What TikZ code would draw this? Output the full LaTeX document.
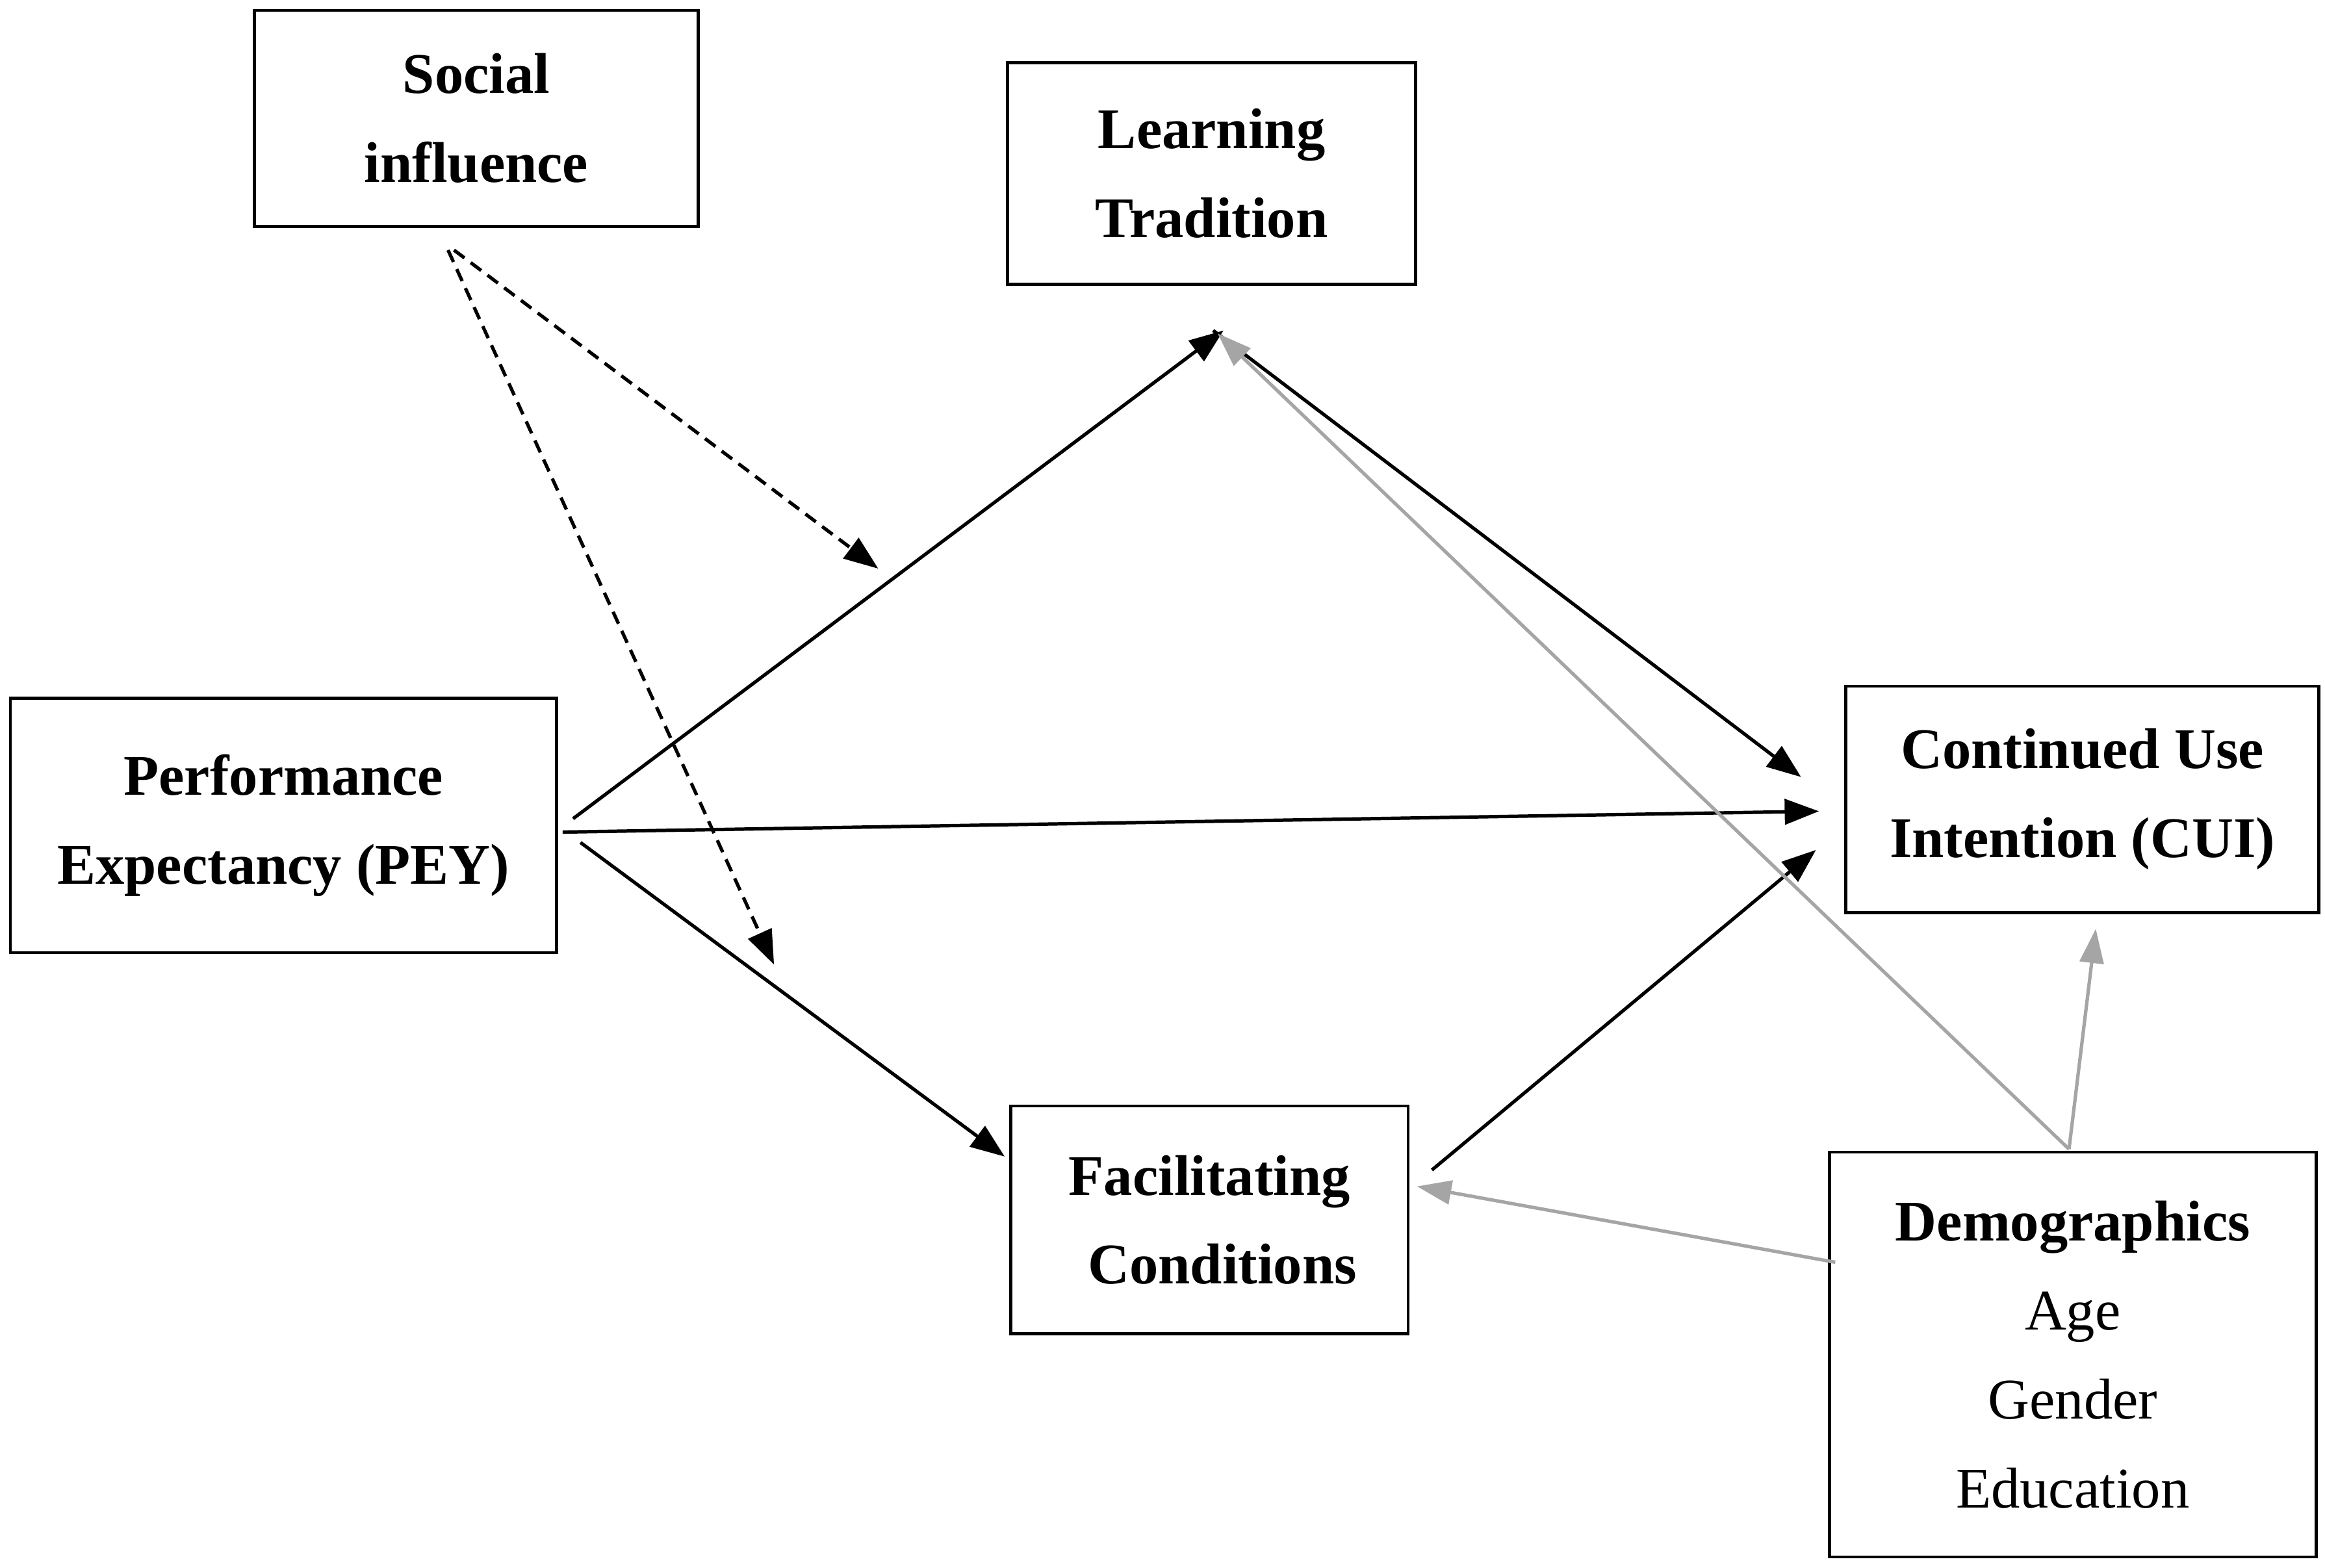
\documentclass[tikz,border=0pt]{standalone}
\definecolor{linkgray}{RGB}{165, 165, 165}
\usepackage{fontspec}
\setmainfont{Liberation Serif}
\usepackage{tikz}
\usetikzlibrary{arrows.meta, positioning, calc}

\begin{document}
\begin{tikzpicture}[
  cbox/.style={draw, line width=1.2pt, align=center, inner sep=0pt, font=\fontsize{22}{34}\selectfont\bfseries},
  link/.style={-{Triangle[length=0.46cm, width=0.34cm]}, line width=1.3pt},
  dlink/.style={link, dash pattern=on 5pt off 3pt},
  glink/.style={-{Triangle[length=0.46cm, width=0.32cm]}, line width=1.3pt, draw=linkgray}
]
  \useasboundingbox (0, 0) rectangle (31.24, -21.06);

  \node[cbox, minimum width=5.96cm, minimum height=2.90cm] (si) at (6.40, -1.59) {Social\\influence};
  \node[cbox, minimum width=5.48cm, minimum height=2.98cm] (lt) at (16.28, -2.33) {Learning\\Tradition};
  \node[cbox, minimum width=7.34cm, minimum height=3.42cm] (pey) at (3.81, -11.09) {Performance\\Expectancy (PEY)};
  \node[cbox, minimum width=6.36cm, minimum height=3.04cm] (cui) at (27.98, -10.74) {Continued Use\\Intention (CUI)};
  \node[cbox, minimum width=5.34cm, minimum height=3.06cm] (fc) at (16.25, -16.39) {Facilitating\\\hspace*{0.35cm}Conditions};
  \node[cbox, minimum width=6.54cm, minimum height=5.44cm] (dem) at (27.85, -18.20) {Demographics\\\mdseries Age\\\mdseries Gender\\\mdseries Education};

  % free ends of the connectors
  \coordinate (si-a) at (6.10, -3.36);
  \coordinate (si-b) at (6.02, -3.36);
  \coordinate (mod-lt) at (11.80, -7.64);
  \coordinate (mod-fc) at (10.40, -12.96);
  \coordinate (pey-o1) at (7.70, -11.00);
  \coordinate (pey-o2) at (7.56, -11.18);
  \coordinate (pey-o3) at (7.80, -11.32);
  \coordinate (lt-in) at (16.44, -4.44);
  \coordinate (lt-out) at (16.30, -4.44);
  \coordinate (lt-gin) at (16.36, -4.48);
  \coordinate (fc-in) at (13.50, -15.54);
  \coordinate (fc-out) at (19.24, -15.72);
  \coordinate (fc-gin) at (19.04, -15.94);
  \coordinate (cui-in1) at (24.20, -10.44);
  \coordinate (cui-in2) at (24.44, -10.90);
  \coordinate (cui-in3) at (24.40, -11.42);
  \coordinate (cui-gin) at (28.16, -12.48);
  \coordinate (dem-top) at (27.80, -15.44);
  \coordinate (dem-left) at (24.66, -16.96);

  \draw[dlink] (si-a) -- (mod-lt);
  \draw[dlink] (si-b) -- (mod-fc);

  \draw[link] (pey-o1) -- (lt-in);
  \draw[link] (pey-o2) -- (cui-in2);
  \draw[link] (pey-o3) -- (fc-in);
  \draw[link] (lt-out) -- (cui-in1);
  \draw[link] (fc-out) -- (cui-in3);

  \draw[glink] (dem-top) -- (lt-gin);
  \draw[glink] (dem-top) -- (cui-gin);
  \draw[glink] (dem-left) -- (fc-gin);
\end{tikzpicture}
\end{document}
